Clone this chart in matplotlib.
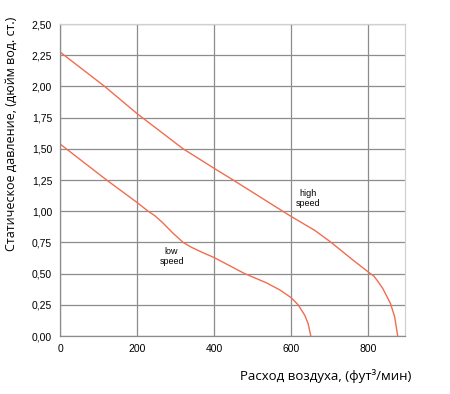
"""
Fan performance curves: static pressure vs air flow
"""

import matplotlib.pyplot as plt

# high speed curve (фут³/мин, дюйм вод. ст.)
high_flow = [0, 115, 200, 319, 400, 449, 578, 600, 662, 704, 760, 806,
             815, 825, 838, 858, 869, 877]
high_pres = [2.273, 2.0, 1.78, 1.5, 1.343, 1.25, 1.0, 0.958, 0.845, 0.75,
             0.61, 0.5, 0.48, 0.44, 0.382, 0.262, 0.155, 0.0]

# low speed curve
low_flow = [0, 120, 200, 228, 245, 265, 293, 319, 340, 363, 400, 479, 535,
            570, 600, 618, 635, 644, 651]
low_pres = [1.536, 1.25, 1.068, 1.0, 0.965, 0.91, 0.823, 0.75, 0.712, 0.678,
            0.628, 0.5, 0.427, 0.37, 0.307, 0.25, 0.168, 0.10, 0.0]

x_ticks = [0, 200, 400, 600, 800]
y_ticks = [0.0, 0.25, 0.5, 0.75, 1.0, 1.25, 1.5, 1.75, 2.0, 2.25, 2.5]

LINE = '#f26c4f'
GRID = '#8c8c8c'

fig = plt.figure(figsize=(4.5, 3.94), dpi=100)
ax = fig.add_axes([0.1344, 0.1472, 0.7656, 0.7918])

ax.plot(high_flow, high_pres, color=LINE, lw=1.0)
ax.plot(low_flow, low_pres, color=LINE, lw=1.0)

ax.text(645, 1.1, 'high\nspeed', ha='center', va='center', fontsize=6.5,
        family='Liberation Sans', linespacing=1.1)
ax.text(289, 0.635, 'low\nspeed', ha='center', va='center', fontsize=6.5,
        family='Liberation Sans', linespacing=1.1)

ax.set_xlim(0, 896)
ax.set_ylim(0, 2.5)
ax.set_xticks(x_ticks)
ax.set_yticks(y_ticks)
ax.set_yticklabels([f'{v:.2f}'.replace('.', ',') for v in y_ticks])
ax.tick_params(length=0, labelsize=7.5, pad=6)
for lbl in ax.get_xticklabels() + ax.get_yticklabels():
    lbl.set_family('Liberation Sans')

ax.grid(True, color=GRID, lw=0.9)
ax.set_axisbelow(True)
for side in ['left', 'bottom']:
    ax.spines[side].set_color(GRID)
    ax.spines[side].set_linewidth(0.9)
for side in ['top', 'right']:
    ax.spines[side].set_color('#d0d0d0')
    ax.spines[side].set_linewidth(0.9)

fig.text(0.026, 0.661, 'Статическое давление, (дюйм вод. ст.)', rotation=90,
         ha='center', va='center', fontsize=9, family='Open Sans')
fig.text(0.915, 0.045, 'Расход воздуха, (фут³/мин)', ha='right', va='center',
         fontsize=9.5, family='Open Sans')

plt.savefig('out.png', dpi=100, facecolor='white')
plt.close()
